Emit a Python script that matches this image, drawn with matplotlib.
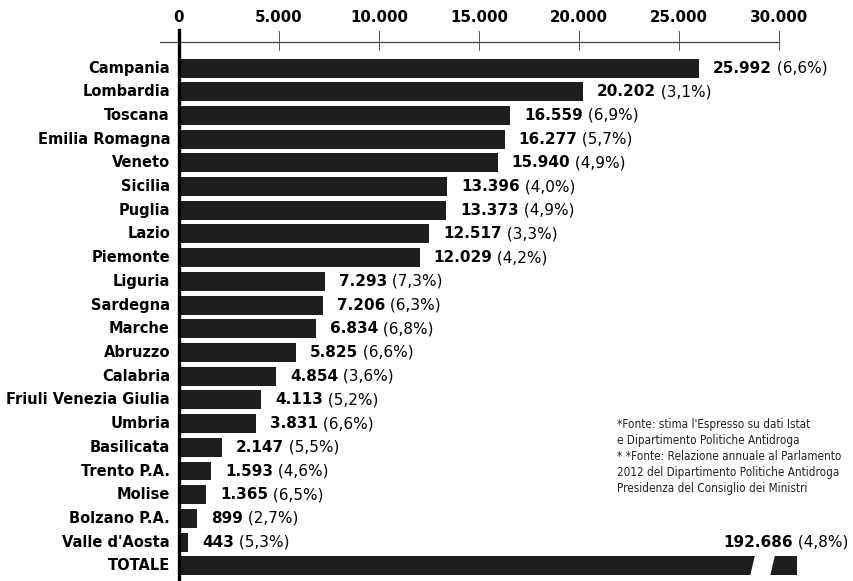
import matplotlib
matplotlib.use("Agg")
import matplotlib.pyplot as plt
from matplotlib.patches import Polygon

regions = ["Campania", "Lombardia", "Toscana", "Emilia Romagna", "Veneto",
           "Sicilia", "Puglia", "Lazio", "Piemonte", "Liguria", "Sardegna",
           "Marche", "Abruzzo", "Calabria", "Friuli Venezia Giulia", "Umbria",
           "Basilicata", "Trento P.A.", "Molise", "Bolzano P.A.", "Valle d'Aosta"]
values = [25992, 20202, 16559, 16277, 15940, 13396, 13373, 12517, 12029, 7293,
          7206, 6834, 5825, 4854, 4113, 3831, 2147, 1593, 1365, 899, 443]
shares = ["6,6", "3,1", "6,9", "5,7", "4,9", "4,0", "4,9", "3,3", "4,2", "7,3",
          "6,3", "6,8", "6,6", "3,6", "5,2", "6,6", "5,5", "4,6", "6,5", "2,7", "5,3"]
total_label = "TOTALE"
total_value = 192686
total_share = "4,8"
xticks = [0, 5000, 10000, 15000, 20000, 25000, 30000]
notes = ["*Fonte: stima l'Espresso su dati Istat",
         "e Dipartimento Politiche Antidroga",
         "* *Fonte: Relazione annuale al Parlamento",
         "2012 del Dipartimento Politiche Antidroga",
         "Presidenza del Consiglio dei Ministri"]

plt.rcParams['font.family'] = ['DejaVu Sans']
BAR = "#1e1e1e"


def fmt(v):
    return f"{v:,}".replace(",", ".")


fig = plt.figure(figsize=(8.54, 5.81), dpi=100)
ax = fig.add_axes([160 / 854, 0, 694 / 854, 1])
ax.set_xlim(-950, 33750)
ax.set_ylim(21.64, -2.87)
ax.axis("off")

ys = list(range(len(regions)))
ax.barh(ys, values, height=0.8, color=BAR)

# TOTALE bar, truncated with a break
cap = 30900
ty = len(regions)
ax.barh([ty], [cap], height=0.8, color=BAR)
brk = Polygon([(28800, ty - 0.45), (29800, ty - 0.45), (29550, ty + 0.45), (28550, ty + 0.45)],
              closed=True, facecolor="white", edgecolor="none", zorder=3)
ax.add_patch(brk)

# labels on the left
for y, name in zip(ys + [ty], regions + [total_label]):
    ax.text(-450, y, name, ha="right", va="center", fontsize=11.7,
            fontweight="bold", fontstretch="condensed")

# value labels
for y, v, s in zip(ys, values, shares):
    t = ax.text(v + 700, y, fmt(v), ha="left", va="center", fontsize=11,
                fontweight="bold")
    ax.annotate(f" ({s}%)", xy=(1, 0.5), xycoords=t, ha="left", va="center",
                fontsize=11)

t = ax.annotate(f" ({total_share}%)", xy=(33450, ty - 1), ha="right", va="center",
                fontsize=11, annotation_clip=False)
ax.annotate(fmt(total_value), xy=(0, 0.5), xycoords=t, ha="right", va="center",
            fontsize=11, fontweight="bold")

# top axis
axis_y = -1.1
ax.plot([-950, xticks[-1]], [axis_y, axis_y], color="#444444", lw=0.9, clip_on=False)
for xt in xticks[1:]:
    ax.plot([xt, xt], [axis_y - 0.45, axis_y + 0.35], color="#555555", lw=0.7)
    ax.text(xt, -2.15, fmt(xt), ha="center", va="center", fontsize=10.8,
            fontweight="bold")
ax.text(0, -2.15, "0", ha="center", va="center", fontsize=10.8, fontweight="bold")
ax.plot([0, 0], [-1.6, 21.64], color="black", lw=2.4, zorder=4, clip_on=False)

# source notes
for i, line in enumerate(notes):
    ax.text(21900, 15.05 + i * 0.667, line, ha="left", va="center", fontsize=8.4,
            color="#222222", fontstretch="condensed")

fig.savefig("out.png", dpi=100)
